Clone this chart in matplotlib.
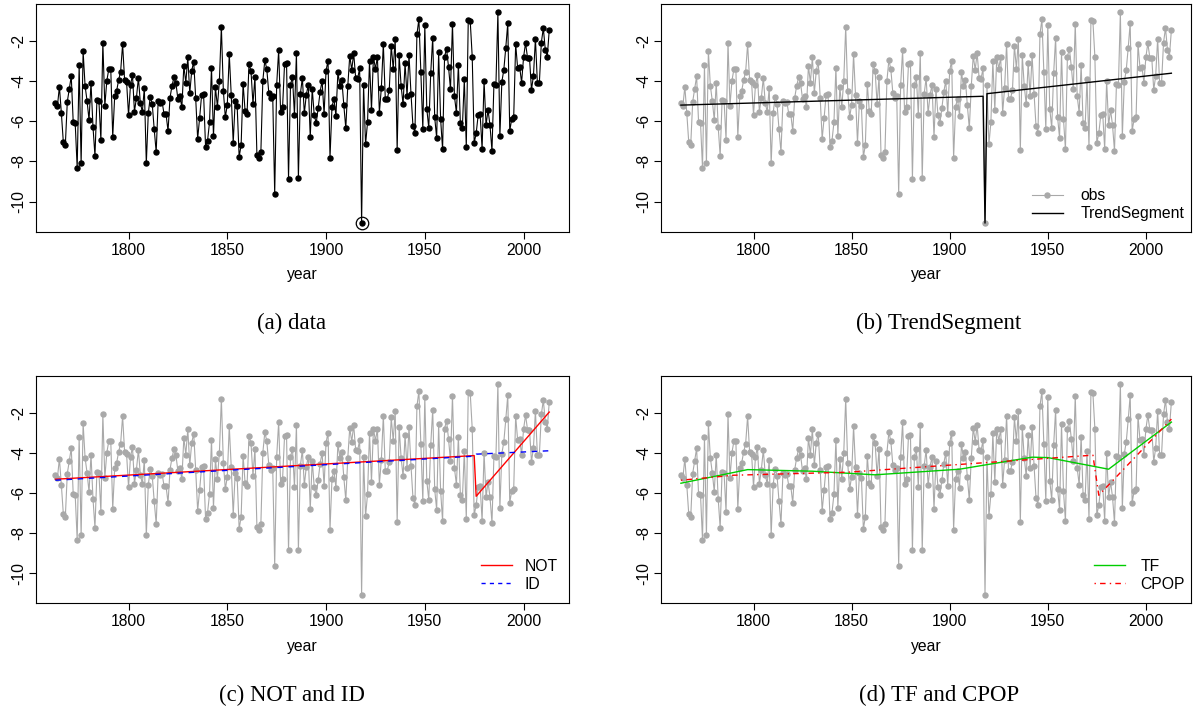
import matplotlib
matplotlib.use('Agg')
import matplotlib.pyplot as plt
from matplotlib.lines import Line2D
import numpy as np

plt.rcParams['font.family'] = ['Liberation Sans', 'DejaVu Sans']
plt.rcParams['axes.unicode_minus'] = False

# ---------------- data ----------------
years = list(range(1763, 2014))

obs_1763_1804 = [-5.10, -5.23, -4.27, -5.60, -7.05, -7.18, -5.02, -4.40, -3.75, -6.05,
                 -6.10, -8.32, -3.20, -8.10, -2.50, -4.23, -4.98, -5.93, -4.08, -6.27,
                 -7.72, -4.93, -4.98, -6.93, -2.07, -5.23, -3.98, -3.40, -3.37, -6.77,
                 -4.73, -4.47, -3.93, -3.52, -2.15, -3.93, -4.02, -5.68, -4.18, -3.70,
                 -5.52, -4.82]
obs_1805_1851 = [-3.83, -5.10, -5.52, -4.32, -8.10, -5.60, -4.78, -5.13, -6.40, -7.53,
                 -5.00, -5.07, -5.03, -5.65, -5.65, -6.48, -4.82, -4.23, -3.80, -4.10,
                 -4.90, -4.73, -5.30, -3.23, -4.07, -2.80, -4.60, -3.47, -3.02, -4.85,
                 -6.87, -5.82, -4.68, -4.65, -7.27, -6.97, -6.05, -3.32, -6.73, -4.30,
                 -5.27, -3.98, -1.28, -4.47, -5.80, -5.17, -2.65]
obs_1852_1898 = [-4.70, -7.07, -4.98, -5.23, -7.78, -7.18, -4.12, -5.48, -5.62, -3.12,
                 -3.50, -5.13, -3.77, -7.70, -7.82, -7.53, -3.97, -2.95, -3.40, -4.57,
                 -4.85, -4.73, -9.62, -4.18, -2.45, -5.55, -5.27, -3.12, -3.10, -8.85,
                 -4.18, -3.77, -5.68, -2.60, -8.82, -4.63, -3.83, -5.60, -4.68, -4.17,
                 -6.78, -4.37, -5.67, -6.10, -5.35, -4.52, -3.98]
obs_1899_1945 = [-5.63, -3.47, -2.97, -7.82, -5.27, -4.87, -5.73, -3.55, -4.23, -3.95,
                 -5.20, -6.35, -4.25, -2.73, -3.43, -2.60, -3.85, -3.87, -3.35, -11.07,
                 -4.20, -7.15, -6.05, -3.00, -5.43, -2.77, -3.38, -2.80, -5.57, -4.32,
                 -2.13, -4.90, -4.87, -4.43, -2.22, -3.38, -1.90, -7.45, -2.70, -4.23,
                 -5.15, -3.10, -4.73, -2.70, -4.62, -6.23, -6.57]
obs_1946_1991 = [-1.67, -0.90, -3.55, -6.40, -1.20, -5.37, -6.33, -3.58, -1.83, -5.80,
                 -6.83, -2.55, -5.88, -7.40, -2.77, -2.38, -3.28, -4.40, -1.13, -4.75,
                 -5.57, -3.17, -6.08, -6.33, -3.90, -7.28, -0.93, -1.02, -2.77, -7.07,
                 -6.60, -5.70, -5.63, -7.37, -3.98, -6.20, -5.43, -6.20, -7.47, -4.12,
                 -4.18, -0.57, -6.75, -4.03, -3.43, -2.32]
obs_1992_2013 = [-1.10, -6.48, -5.88, -5.80, -2.15, -3.35, -3.27, -4.07, -2.80, -2.10,
                 -2.82, -2.83, -4.43, -3.73, -1.88, -4.10, -4.07, -2.07, -1.35, -2.43,
                 -2.77, -1.45]
obs = (obs_1763_1804 + obs_1805_1851 + obs_1852_1898 + obs_1899_1945
       + obs_1946_1991 + obs_1992_2013)

# fitted piecewise-linear estimates (knot years and knot values)
ts_years = [1763, 1917, 1918, 1919, 2013]
ts_vals = [-5.19, -4.75, -11.07, -4.62, -3.60]

not_years = [1763, 1975, 1976, 2013]
not_vals = [-5.30, -4.12, -6.15, -1.95]

id_years = [1763, 1975, 1976, 2013]
id_vals = [-5.35, -4.15, -4.05, -3.88]

tf_years = [1763, 1797, 1830, 1862, 1905, 1942, 1950, 1981, 2013]
tf_vals = [-5.50, -4.82, -4.90, -5.08, -4.80, -4.20, -4.22, -4.80, -2.45]

cpop_years = [1763, 1790, 1848, 1973, 1976, 2013]
cpop_vals = [-5.35, -5.10, -4.95, -4.10, -6.10, -2.30]

xticks = [1800, 1850, 1900, 1950, 2000]
yticks = [-2, -4, -6, -8, -10]
captions = ['(a) data', '(b) TrendSegment', '(c) NOT and ID', '(d) TF and CPOP']

# ---------------- figure ----------------
W, H = 1193, 715
fig = plt.figure(figsize=(W / 100, H / 100), dpi=100)


def ax_at(x0, x1, y0, y1):
    return fig.add_axes([x0 / W, 1 - y1 / H, (x1 - x0) / W, (y1 - y0) / H])


axa = ax_at(35.7, 569, 4, 231.5)
axb = ax_at(661.3, 1191, 4, 231.5)
axc = ax_at(35.7, 569, 376, 603.3)
axd = ax_at(661.3, 1191, 376, 603.3)

FS = 11.3
GRAY = '#A9A9A9'


def style(ax):
    ax.set_xlim(1753, 2023)
    ax.set_ylim(-11.49, -0.15)
    ax.set_xticks(xticks)
    ax.set_yticks(yticks)
    ax.tick_params(direction='out', length=5, width=0.8, labelsize=FS, color='black')
    ax.tick_params(axis='x', pad=3)
    ax.tick_params(axis='y', pad=2)
    for lab in ax.get_yticklabels():
        lab.set_rotation(90)
        lab.set_va('center')
    for sp in ax.spines.values():
        sp.set_linewidth(0.8)
    ax.set_xlabel('year', fontsize=FS, labelpad=7)


# (a)
axa.plot(years, obs, '-', color='black', lw=0.8, zorder=2)
axa.plot(years, obs, 'o', color='black', ms=3.6, zorder=3)
imin = int(np.argmin(obs))
axa.plot(years[imin], obs[imin], 'o', mfc='none', mec='black', ms=9, mew=0.9, zorder=4)
style(axa)


def obs_gray(ax):
    ax.plot(years, obs, '-', color=GRAY, lw=0.8, zorder=2)
    ax.plot(years, obs, 'o', color=GRAY, ms=3.6, zorder=3)


LEG = dict(loc='lower right', frameon=False, fontsize=FS, handlelength=2.0,
           labelspacing=0.2, borderpad=0, borderaxespad=0)

# (b)
obs_gray(axb)
axb.plot(ts_years, ts_vals, '-', color='black', lw=1.0, zorder=4)
style(axb)
hb = [Line2D([], [], color=GRAY, lw=0.8, marker='o', ms=3.6),
      Line2D([], [], color='black', lw=1.0)]
axb.legend(hb, ['obs', 'TrendSegment'], bbox_to_anchor=(0.987, 0.045),
           handletextpad=1.1, **LEG)

# (c)
obs_gray(axc)
axc.plot(not_years, not_vals, '-', color='#FF0000', lw=1.0, zorder=4)
axc.plot(id_years, id_vals, color='#0000FF', lw=1.0, ls=(0, (4, 4)), zorder=5)
style(axc)
hc = [Line2D([], [], color='#FF0000', lw=1.0),
      Line2D([], [], color='#0000FF', lw=1.0, ls=(0, (3, 3)))]
axc.legend(hc, ['NOT', 'ID'], bbox_to_anchor=(0.979, 0.05),
           handletextpad=0.8, **LEG)

# (d)
obs_gray(axd)
axd.plot(tf_years, tf_vals, '-', color='#00CD00', lw=1.0, zorder=4)
axd.plot(cpop_years, cpop_vals, color='#FF0000', lw=1.0, ls=(0, (1, 3, 4, 3)), zorder=5)
style(axd)
hd = [Line2D([], [], color='#00CD00', lw=1.0),
      Line2D([], [], color='#FF0000', lw=1.0, ls=(0, (1, 3, 4, 3)))]
axd.legend(hd, ['TF', 'CPOP'], bbox_to_anchor=(0.988, 0.05),
           handletextpad=0.95, **LEG)

# captions
cap_pos = [(292, 323), (939, 323), (292, 695), (939, 695)]
for (cx, cy), txt in zip(cap_pos, captions):
    fig.text(cx / W, 1 - cy / H, txt, ha='center', va='center', fontsize=16.4,
             family=['Liberation Serif', 'DejaVu Serif'])

fig.savefig('out.png', dpi=100)
